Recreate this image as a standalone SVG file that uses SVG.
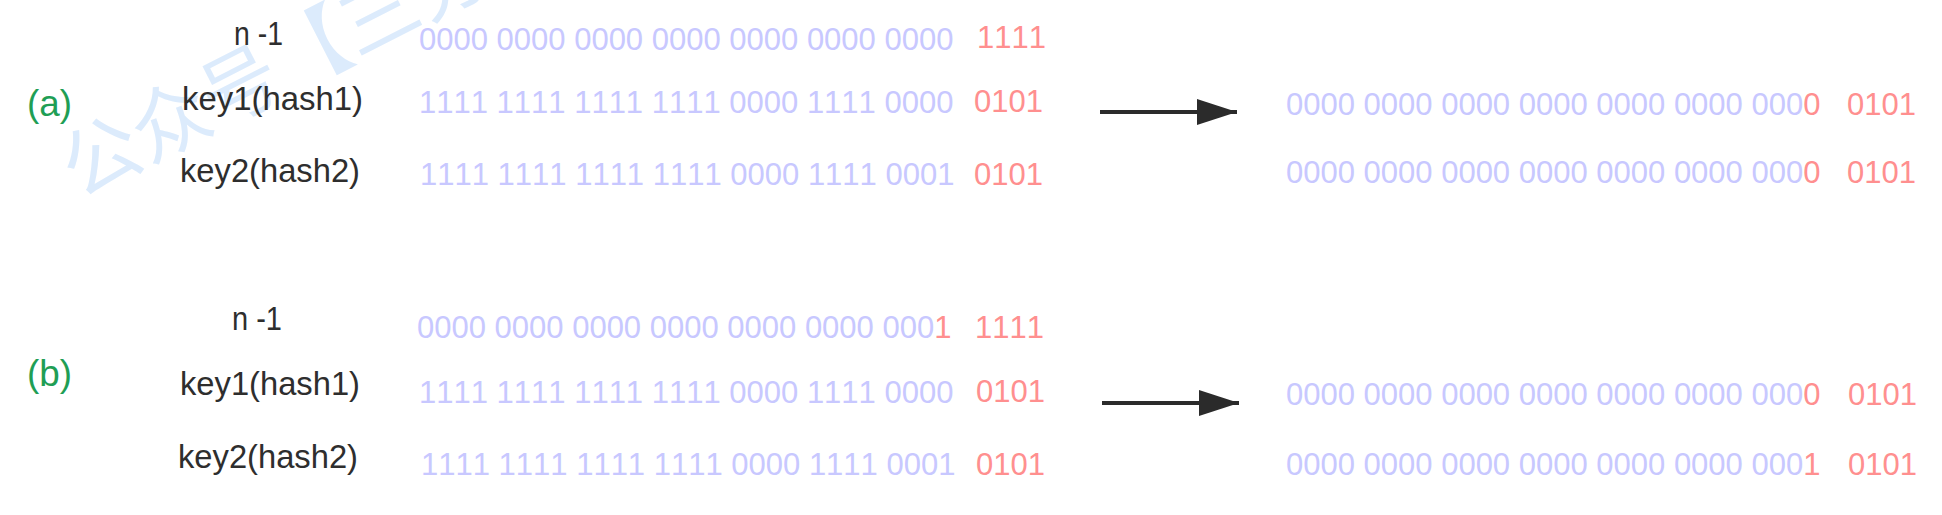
<svg xmlns="http://www.w3.org/2000/svg" width="1942" height="515" viewBox="0 0 1942 515">
<style>
text{font-kerning:none}
.bg{fill:#ffffff}
.wm{font-family:"Noto Sans CJK SC","Liberation Sans",sans-serif;font-size:78px;fill:#dcebfc}
.lbl{font-family:"Liberation Sans",Arial,sans-serif;font-size:33px;fill:#2e2e2e}
.tag{font-family:"Liberation Sans",Arial,sans-serif;font-size:36px;fill:#1f9e55}
.bin{font-family:"Liberation Sans",Arial,sans-serif;font-size:31px}
.b{fill:#c8c8ff}
.r{fill:#ff8f8f}
.conn{stroke:#2b2b2b;stroke-width:4;fill:none}
</style>
<defs>
<marker id="ah" markerUnits="userSpaceOnUse" markerWidth="42" markerHeight="28" refX="40" refY="13" orient="auto">
<path d="M0,0 L40,13 L0,26 Z" fill="#2b2b2b"/>
</marker>
</defs>
<rect class="bg" x="0" y="0" width="1942" height="515"/>
<text class="wm" x="79" y="199" transform="rotate(-27 79 199)">公众号【三分</text>

<g id="sec-a">
<g id="a-tag"><text class="tag" x="27" y="116" textLength="45" lengthAdjust="spacingAndGlyphs">(a)</text></g>
<g id="a-n1"><text class="lbl" x="234" y="45" textLength="49" lengthAdjust="spacingAndGlyphs">n -1</text>
<text class="bin b" x="419" y="50">0000 0000 0000 0000 0000 0000 0000</text>
<text class="bin r" x="977" y="48">1111</text></g>
<g id="a-key1"><text class="lbl" x="182" y="110" textLength="181" lengthAdjust="spacingAndGlyphs">key1(hash1)</text>
<text class="bin b" x="419" y="113">1111 1111 1111 1111 0000 1111 0000</text>
<text class="bin r" x="974" y="112">0101</text></g>
<g id="a-key2"><text class="lbl" x="180" y="182" textLength="180" lengthAdjust="spacingAndGlyphs">key2(hash2)</text>
<text class="bin b" x="420" y="185">1111 1111 1111 1111 0000 1111 0001</text>
<text class="bin r" x="974" y="185">0101</text></g>
<g id="a-res1"><text class="bin" x="1286" y="115"><tspan class="b">0000 0000 0000 0000 0000 0000 000</tspan><tspan class="r">0</tspan></text>
<text class="bin r" x="1847" y="115">0101</text></g>
<g id="a-res2"><text class="bin" x="1286" y="183"><tspan class="b">0000 0000 0000 0000 0000 0000 000</tspan><tspan class="r">0</tspan></text>
<text class="bin r" x="1847" y="183">0101</text></g>
</g>

<g id="sec-b">
<g id="b-tag"><text class="tag" x="27" y="386" textLength="45" lengthAdjust="spacingAndGlyphs">(b)</text></g>
<g id="b-n1"><text class="lbl" x="232" y="330" textLength="50" lengthAdjust="spacingAndGlyphs">n -1</text>
<text class="bin" x="417" y="338"><tspan class="b">0000 0000 0000 0000 0000 0000 000</tspan><tspan class="r">1</tspan></text>
<text class="bin r" x="975" y="338">1111</text></g>
<g id="b-key1"><text class="lbl" x="180" y="395" textLength="180" lengthAdjust="spacingAndGlyphs">key1(hash1)</text>
<text class="bin b" x="419" y="403">1111 1111 1111 1111 0000 1111 0000</text>
<text class="bin r" x="976" y="402">0101</text></g>
<g id="b-key2"><text class="lbl" x="178" y="468" textLength="180" lengthAdjust="spacingAndGlyphs">key2(hash2)</text>
<text class="bin b" x="421" y="475">1111 1111 1111 1111 0000 1111 0001</text>
<text class="bin r" x="976" y="475">0101</text></g>
<g id="b-res1"><text class="bin" x="1286" y="405"><tspan class="b">0000 0000 0000 0000 0000 0000 000</tspan><tspan class="r">0</tspan></text>
<text class="bin r" x="1848" y="405">0101</text></g>
<g id="b-res2"><text class="bin" x="1286" y="475"><tspan class="b">0000 0000 0000 0000 0000 0000 000</tspan><tspan class="r">1</tspan></text>
<text class="bin r" x="1848" y="475">0101</text></g>
</g>

<g id="connectors">
<line class="conn" x1="1100" y1="112" x2="1237" y2="112" marker-end="url(#ah)"/>
<line class="conn" x1="1102" y1="403" x2="1239" y2="403" marker-end="url(#ah)"/>
</g>
</svg>
